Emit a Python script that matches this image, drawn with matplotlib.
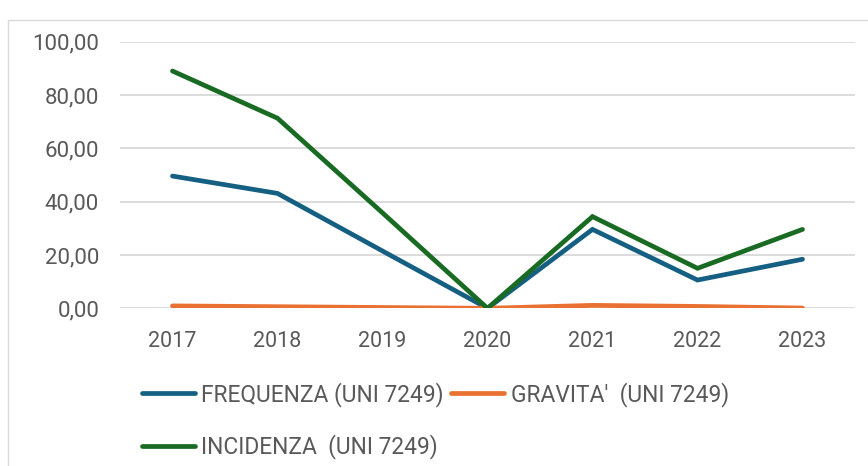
import matplotlib
matplotlib.use("Agg")
import matplotlib.pyplot as plt
from matplotlib.patches import Rectangle
from matplotlib.ticker import FuncFormatter

years = ["2017", "2018", "2019", "2020", "2021", "2022", "2023"]
frequenza = [49.6, 43.1, 21.5, 0.0, 29.6, 10.6, 18.4]
gravita = [0.9, 0.6, 0.3, 0.0, 1.1, 0.7, 0.1]
incidenza = [89.0, 71.3, 35.8, 0.0, 34.4, 15.0, 29.6]
labels = ["FREQUENZA (UNI 7249)", "GRAVITA'  (UNI 7249)", "INCIDENZA  (UNI 7249)"]
colors = ["#156082", "#E97132", "#196B24"]

plt.rcParams['font.family'] = ['Roboto', 'DejaVu Sans']

W, H = 868, 466
fig = plt.figure(figsize=(W / 100, H / 100), dpi=100)
fig.patch.set_facecolor("white")

# chart frame (partially cropped)
fig.patches.append(Rectangle((8 / W, -0.1), 1.2, 1 - 20 / H + 0.1, transform=fig.transFigure,
                             fill=False, edgecolor="#D9D9D9", linewidth=1.0, zorder=0))

ax = fig.add_axes([120 / W, 1 - 308.3 / H, (855 - 120) / W, (308.3 - 41.7) / H])
x = list(range(len(years)))
series = [frequenza, gravita, incidenza]
handles = []
for vals, c, lab in zip(series, colors, labels):
    h, = ax.plot(x, vals, color=c, linewidth=3.4, solid_capstyle="round",
                 solid_joinstyle="miter", label=lab, zorder=3)
    handles.append(h)

ax.set_xlim(-0.5, len(years) - 0.5)
ax.set_ylim(0, 100)
ax.set_yticks([0, 20, 40, 60, 80, 100])
ax.yaxis.set_major_formatter(FuncFormatter(lambda v, p: f"{v:.2f}".replace(".", ",")))
ax.set_xticks(x)
ax.set_xticklabels(years)
ax.grid(axis="y", color="#D9D9D9", linewidth=1.3, zorder=0)
ax.set_axisbelow(True)
for s in ax.spines.values():
    s.set_visible(False)
ax.tick_params(axis="both", length=0, labelsize=15.5, labelcolor="#595959")
ax.tick_params(axis="y", labelsize=16, pad=15)
ax.tick_params(axis="x", pad=16)

leg = fig.legend([handles[0], handles[2], handles[1]], [labels[0], labels[2], labels[1]],
                 ncol=2, loc="upper left", bbox_to_anchor=(141.5 / W, 1 - 382 / H),
                 frameon=False, fontsize=16.4, labelcolor="#595959",
                 handlelength=2.35, handletextpad=0.28, columnspacing=0.3,
                 labelspacing=1.2, borderaxespad=0, borderpad=0)
for t in leg.get_texts():
    t.set_color("#595959")

fig.savefig("out.png", dpi=100, facecolor="white")
